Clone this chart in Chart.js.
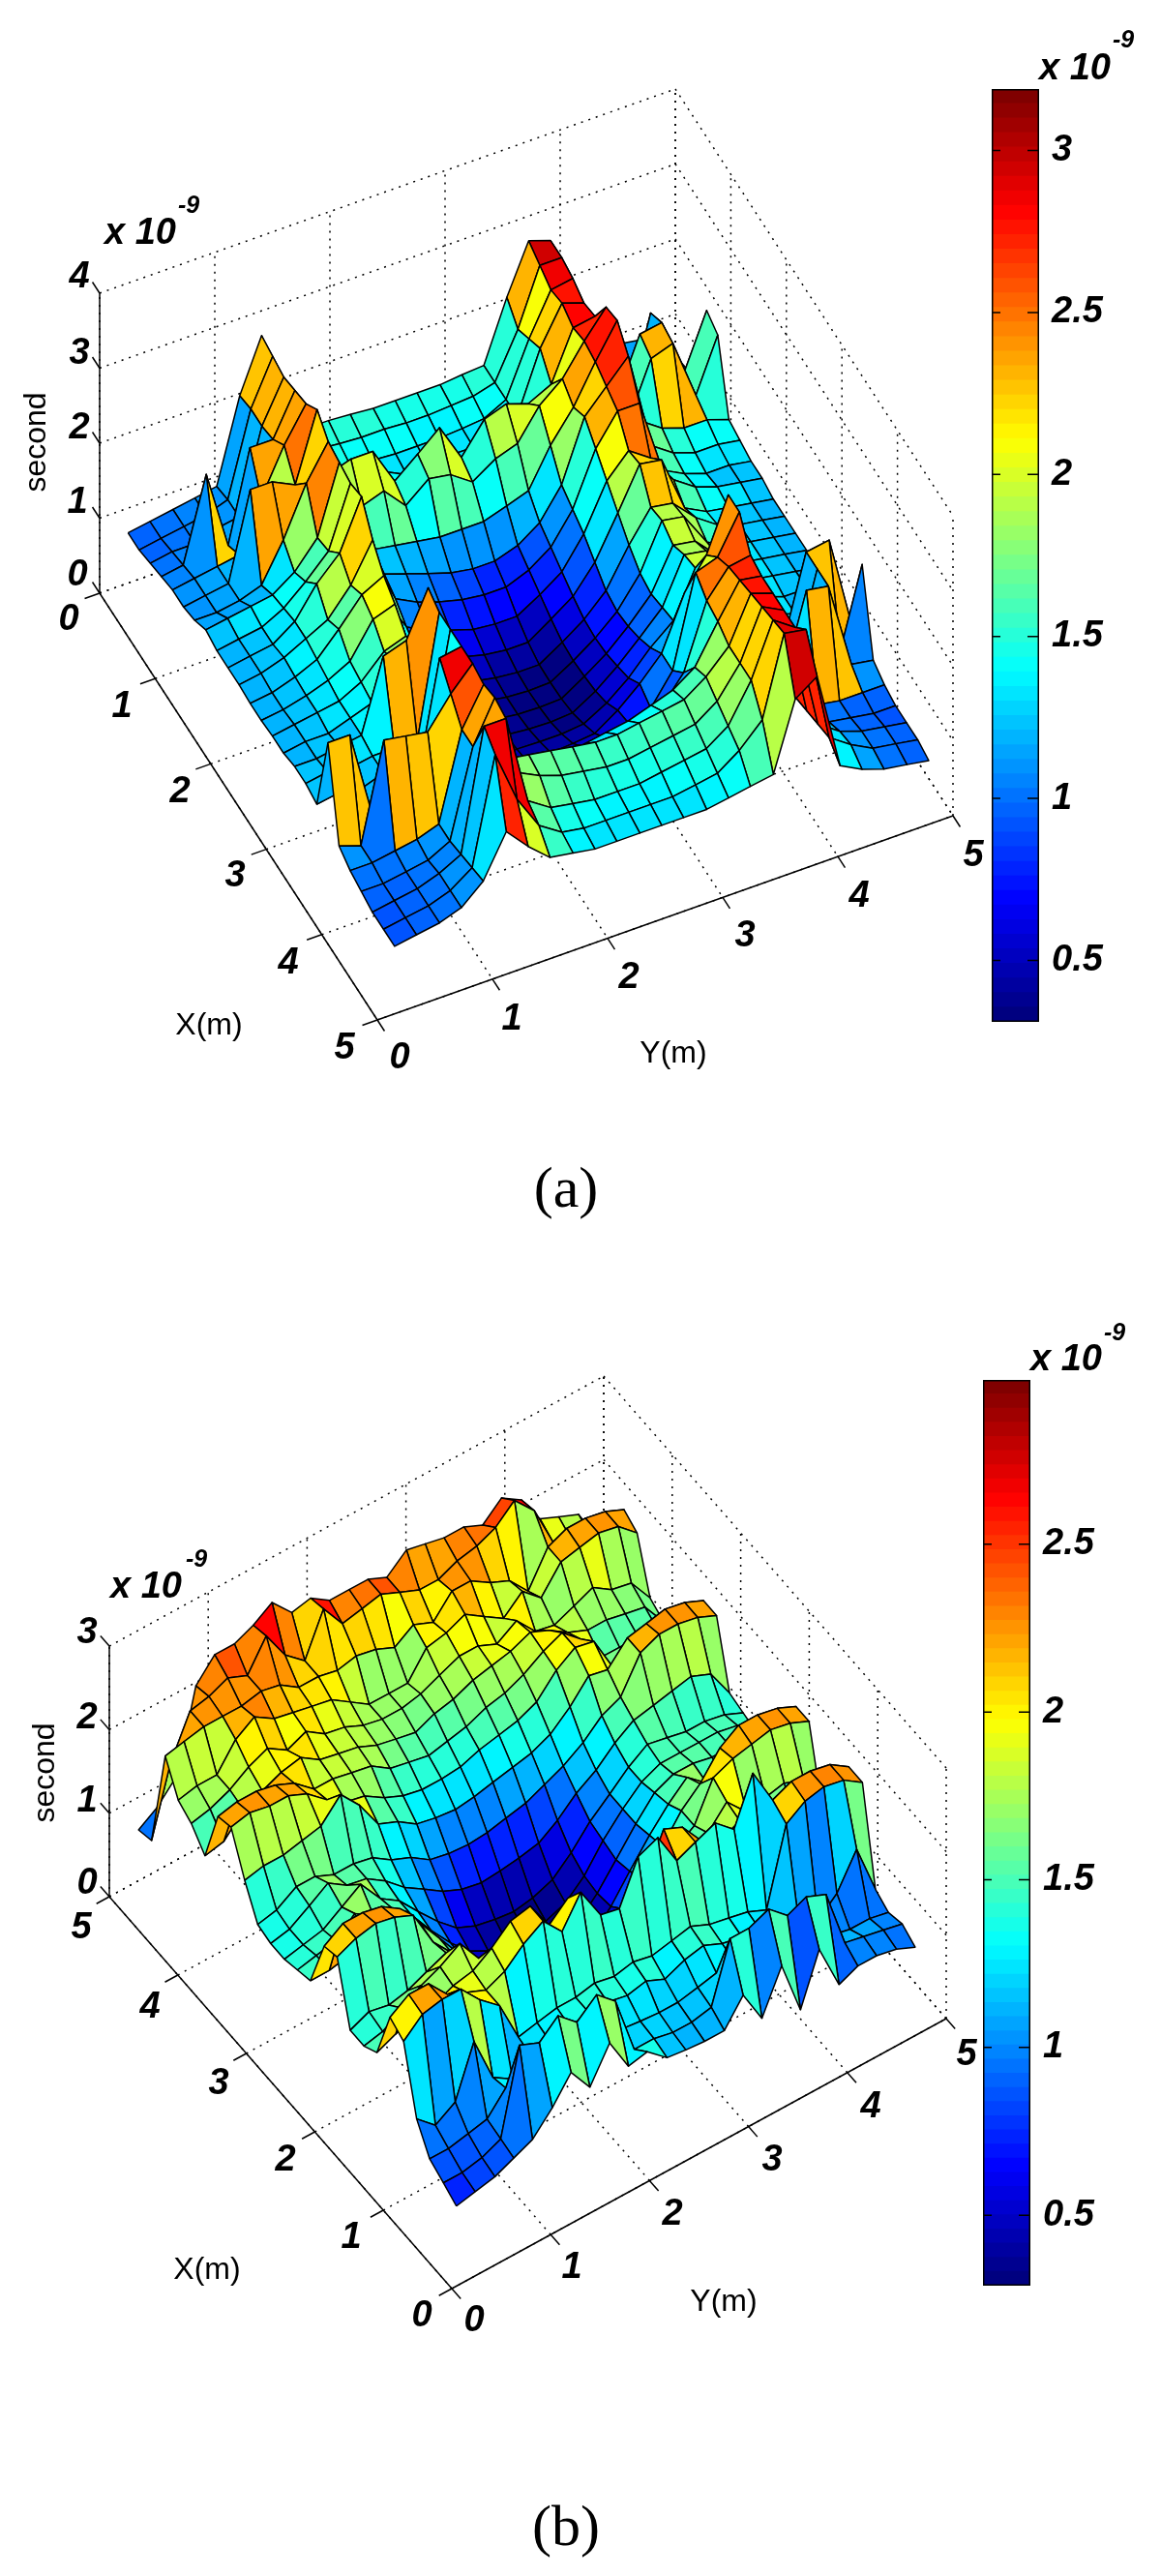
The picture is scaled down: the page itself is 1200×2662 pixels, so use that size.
<!DOCTYPE html>
<html lang="en">
<head>
<meta charset="UTF-8">
<title>Delay surfaces (a) and (b)</title>
<style>
    html, body { margin: 0; padding: 0; background: #fff; }
    #page { position: relative; width: 1200px; height: 2662px; overflow: hidden; }
    canvas { position: absolute; display: block; }
</style>
<script src="https://cdn.jsdelivr.net/npm/chart.js"></script>
</head>
<body>
<div id="page">
    <canvas id="surfA" width="1200" height="1331" style="left:0;top:0"></canvas>
    <canvas id="surfB" width="1200" height="1331" style="left:0;top:1331px"></canvas>
    <canvas id="barA" width="170" height="964" style="left:1025px;top:92px"></canvas>
    <canvas id="barB" width="170" height="936" style="left:1016px;top:1426px"></canvas>
</div>

<script>
// grid positions in metres
const xsA = [0.2,0.4,0.6,0.8,1.0,1.2,1.4,1.6,1.8,2.0,2.2,2.4,2.6,2.8,3.0,3.2,3.4,3.6,3.8,4.0,4.2,4.4,4.6,4.8,5.0];
const ysA = [0.15,0.34,0.54,0.73,0.92,1.12,1.31,1.5,1.7,1.89,2.08,2.28,2.47,2.66,2.86,3.05,3.24,3.44,3.63,3.82,4.02,4.21,4.4,4.6,4.79];
const xsB = [0.15,0.34,0.54,0.73,0.92,1.12,1.31,1.5,1.7,1.89,2.08,2.28,2.47,2.66,2.86,3.05,3.24,3.44,3.63,3.82,4.02,4.21,4.4,4.6,4.79];
const ysB = [0.15,0.34,0.54,0.73,0.92,1.12,1.31,1.5,1.7,1.89,2.08,2.28,2.47,2.66,2.86,3.05,3.24,3.44,3.63,3.82,4.02,4.21,4.4,4.6,4.79];

// heights, unit 1e-9 second, one row per x
const zA = [
[0.95,1.0,1.05,1.1,1.15,2.25,2.95,1.5,1.5,1.5,1.48,1.45,1.45,1.45,1.45,1.48,1.5,2.3,2.95,2.85,1.4,1.2,1.15,1.1,1.05],
[0.95,1.0,1.05,1.1,1.2,2.3,2.9,1.6,1.45,1.42,1.4,1.4,1.38,1.38,1.4,1.42,1.5,2.1,2.85,2.85,1.3,1.2,1.1,1.1,1.05],
[1.0,1.05,1.05,1.15,1.2,2.3,2.85,1.7,1.4,1.35,1.32,1.3,1.3,1.3,1.32,1.35,1.5,2.2,2.75,2.8,1.4,1.3,1.2,1.15,1.1],
[1.05,1.1,2.2,1.15,2.35,2.35,2.9,1.8,1.5,1.5,1.4,1.25,1.25,1.3,1.3,1.35,1.5,2.3,2.8,2.7,1.4,1.2,2.25,1.2,1.15],
[1.1,1.15,1.2,1.25,1.9,2.5,2.95,1.9,2.0,2.0,1.5,1.75,2.0,1.5,1.9,2.0,1.9,2.05,2.7,2.75,1.6,2.3,2.35,1.6,2.3],
[1.1,1.15,1.2,2.35,2.35,2.2,3.1,1.8,1.6,1.7,1.4,1.65,1.6,1.4,1.6,1.7,2.1,2.35,2.75,3.1,1.5,2.2,2.3,1.5,2.2],
[1.15,1.15,1.2,1.3,1.8,2.45,2.9,2.0,1.25,1.2,1.15,1.1,1.1,1.1,1.2,1.3,1.8,2.2,2.7,3.15,1.7,1.5,1.4,1.4,1.3],
[1.25,1.3,1.35,1.4,1.6,1.95,2.85,1.9,1.15,1.05,0.95,0.85,0.8,0.8,0.9,1.1,1.5,2.3,2.6,2.9,1.6,1.4,1.3,1.3,1.25],
[1.2,1.25,1.3,1.45,1.7,2.0,2.8,1.7,1.05,0.9,0.8,0.72,0.68,0.68,0.8,1.0,1.4,2.1,2.5,2.5,1.5,1.35,1.25,1.25,1.2],
[1.2,1.25,1.3,1.5,1.9,2.2,2.85,1.4,0.9,0.75,0.65,0.55,0.52,0.52,0.7,0.9,1.3,1.9,2.2,2.0,1.6,1.4,1.3,1.25,1.2],
[1.2,1.25,1.35,1.5,1.65,2.0,2.5,1.3,0.78,0.62,0.52,0.44,0.4,0.4,0.6,0.8,1.15,1.7,2.25,2.2,1.45,1.3,1.25,1.2,1.15],
[1.18,1.22,1.32,1.45,1.75,2.1,2.25,1.2,0.68,0.52,0.42,0.36,0.33,0.33,0.52,0.72,1.0,1.5,1.9,1.85,1.55,1.35,1.25,1.2,1.15],
[1.18,1.22,1.3,1.4,1.55,2.0,2.1,1.15,0.62,0.48,0.38,0.33,0.31,0.32,0.5,0.7,0.95,1.35,1.95,1.9,1.45,1.3,1.25,1.2,1.15],
[1.2,1.25,1.3,1.35,1.5,1.8,1.9,1.1,0.58,0.46,0.37,0.33,0.32,0.33,0.52,0.72,0.98,1.3,1.85,1.8,1.5,1.3,1.25,1.2,1.15],
[1.2,1.25,1.25,1.35,1.45,1.9,2.0,1.05,0.56,0.46,0.39,0.36,0.35,0.37,0.55,0.78,1.05,1.35,1.95,1.9,1.4,1.3,1.25,1.2,1.15],
[1.25,1.25,1.3,1.35,2.3,2.4,3.0,0.95,0.55,0.48,0.43,0.42,0.42,0.45,0.62,0.85,1.15,1.4,2.0,2.0,1.5,1.3,1.2,1.2,1.15],
[1.25,1.3,1.25,1.3,1.3,1.3,2.9,1.2,0.56,0.5,0.48,0.5,0.52,0.55,0.75,1.0,1.3,2.0,2.4,3.1,1.55,1.3,1.2,1.15,1.1],
[1.2,1.25,1.2,1.3,1.35,1.4,2.9,1.0,0.6,0.55,0.6,0.65,0.7,0.72,0.8,0.9,1.3,2.5,2.6,3.1,1.2,1.2,2.25,2.3,1.1],
[2.25,2.25,1.05,1.2,1.3,2.85,2.9,1.5,0.8,0.7,0.75,0.85,0.95,1.0,1.05,1.15,1.5,2.35,2.7,2.75,1.25,1.2,2.25,1.05,2.1],
[1.1,1.0,2.3,2.25,2.2,2.6,2.9,1.85,1.4,1.2,1.2,1.3,1.35,1.4,1.5,1.6,1.8,2.3,2.75,2.7,1.3,2.3,2.25,1.1,1.05],
[1.0,1.0,1.05,1.1,1.2,2.35,2.85,1.75,1.7,1.65,1.6,1.55,1.55,1.6,1.65,1.7,1.9,2.2,2.8,2.7,1.2,1.0,0.95,0.95,0.95],
[0.95,0.95,1.0,1.05,1.2,2.35,2.9,1.8,1.65,1.55,1.5,1.45,1.45,1.5,1.55,1.6,1.8,2.2,2.85,2.7,1.25,1.0,0.95,0.9,0.9],
[0.9,0.95,1.0,1.1,1.25,2.85,2.85,1.65,1.45,1.4,1.35,1.35,1.35,1.4,1.45,1.5,1.7,2.2,2.9,2.7,1.3,1.1,1.0,0.95,0.9],
[0.9,0.95,1.0,1.1,1.3,2.7,2.0,1.55,1.35,1.3,1.3,1.3,1.3,1.3,1.35,1.4,1.6,1.9,2.95,2.9,1.35,1.15,1.0,0.95,0.9],
[0.9,0.95,1.0,1.1,1.35,1.9,1.6,1.35,1.3,1.25,1.25,1.25,1.25,1.25,1.25,1.3,1.35,1.4,2.3,2.5,1.2,1.05,0.95,0.9,0.85]
];
const zB = [
[0.75,0.8,0.85,0.95,1.05,1.3,1.6,1.3,1.7,1.3,1.35,1.15,1.12,1.1,1.1,1.4,1.0,1.5,0.85,1.45,0.9,1.0,1.0,0.95,0.85],
[0.85,0.85,0.9,1.0,2.0,1.9,2.1,1.9,2.1,1.9,1.2,1.2,1.15,1.15,1.2,1.9,1.9,2.0,1.8,1.9,1.8,1.1,1.05,1.0,0.95],
[0.95,0.95,1.0,1.05,1.3,1.3,1.4,1.3,1.4,1.35,1.25,1.22,1.2,1.2,1.25,1.3,1.3,1.25,1.2,1.1,1.0,1.0,0.95,0.95,0.9],
[1.25,1.05,1.2,1.8,1.25,1.1,1.25,1.3,1.35,1.4,1.4,1.35,1.4,1.3,1.4,1.45,1.35,1.3,1.25,1.15,1.05,1.0,1.2,1.6,1.0],
[2.0,2.2,2.25,2.25,2.0,1.8,1.3,1.35,1.4,1.4,1.45,1.4,1.45,1.4,1.45,1.5,1.4,1.35,1.3,1.2,2.1,2.25,2.3,2.25,2.1],
[2.1,2.25,2.25,2.0,1.9,1.8,1.9,2.1,2.25,2.0,2.35,1.95,1.9,2.4,2.5,2.1,2.2,2.3,2.1,2.65,2.2,2.3,2.3,2.25,2.1],
[1.5,1.6,1.7,1.7,1.8,1.85,2.0,2.2,2.25,1.9,2.1,1.5,1.4,1.5,1.8,2.3,2.2,1.9,1.8,1.9,1.8,1.6,1.4,1.3,1.2],
[1.4,1.45,1.6,1.75,1.85,2.0,1.7,1.5,1.55,1.3,1.25,1.1,1.05,1.15,1.2,1.35,1.45,1.55,1.7,1.95,1.7,1.75,1.8,1.7,1.2],
[1.4,1.5,1.45,1.5,1.6,1.7,1.4,1.3,1.2,1.0,0.85,0.7,0.65,0.7,0.85,1.05,1.25,1.45,1.6,2.05,2.15,2.2,2.25,2.2,2.1],
[2.1,2.2,2.25,2.2,2.1,1.65,1.4,1.25,0.95,0.7,0.55,0.45,0.4,0.42,0.55,0.8,1.05,1.3,1.6,1.8,2.1,2.25,2.25,2.2,2.1],
[2.05,2.2,2.2,2.15,2.0,1.7,1.4,1.1,0.8,0.55,0.42,0.34,0.3,0.32,0.42,0.65,0.95,1.25,1.5,1.7,1.5,1.45,1.4,1.35,1.25],
[1.45,1.45,1.5,1.5,1.55,1.65,1.35,1.0,0.7,0.48,0.36,0.3,0.29,0.31,0.4,0.62,0.9,1.2,1.45,1.55,1.55,1.5,1.5,1.45,1.3],
[1.4,1.45,1.5,1.7,1.55,1.5,1.3,1.0,0.72,0.5,0.38,0.32,0.32,0.36,0.45,0.65,0.95,1.2,1.4,1.5,1.5,1.5,1.5,1.45,1.25],
[1.35,1.4,1.45,1.6,1.75,1.45,1.3,1.05,0.8,0.6,0.5,0.45,0.42,0.46,0.55,0.75,1.0,1.2,1.4,1.55,1.5,1.45,1.45,1.4,1.3],
[1.35,1.4,1.55,1.7,1.55,1.5,1.35,1.15,1.0,0.85,0.75,0.7,0.72,0.75,0.8,0.95,1.15,1.3,1.5,1.65,1.7,1.75,1.8,1.7,1.35],
[1.4,1.45,1.6,1.6,1.5,1.5,1.45,1.3,1.2,1.05,1.0,0.98,1.0,1.05,1.1,1.2,1.3,1.45,1.65,1.75,2.15,2.25,2.25,2.2,2.1],
[1.75,1.8,1.8,1.85,1.9,2.15,1.9,1.55,1.45,1.3,1.25,1.22,1.25,1.3,1.35,1.4,1.5,1.7,1.95,1.9,2.15,2.2,2.25,2.2,2.1],
[2.2,2.25,2.2,2.2,2.1,1.9,1.75,1.7,1.55,1.45,1.4,1.4,1.42,1.5,1.55,1.6,1.7,1.95,2.1,2.05,1.6,1.6,1.6,1.55,1.3],
[2.15,2.2,2.2,2.15,2.05,1.85,1.85,1.8,1.75,1.6,1.55,1.5,1.55,1.6,1.7,1.75,1.85,2.0,2.1,1.9,1.55,1.55,1.55,1.5,1.3],
[1.5,1.55,1.8,1.9,2.0,2.05,1.9,1.85,1.8,1.7,1.65,1.6,1.7,1.75,1.85,1.9,1.95,2.05,1.95,1.8,1.7,1.7,1.65,1.6,1.3],
[1.7,1.75,1.85,2.0,2.1,1.95,2.05,1.9,1.85,1.75,1.7,1.7,1.75,1.85,1.95,1.95,1.85,2.0,1.75,1.7,1.8,1.9,1.75,1.7,1.4],
[1.8,1.85,1.85,2.15,2.3,2.15,2.1,2.05,2.0,1.85,1.7,1.7,1.7,2.0,2.05,2.15,2.0,1.85,2.05,1.85,2.15,2.2,2.25,2.2,2.0],
[2.15,2.2,2.25,2.25,2.25,2.3,2.25,2.1,2.1,2.05,2.1,2.05,1.95,2.1,2.0,2.25,2.25,2.1,2.0,1.75,2.15,2.25,2.25,2.2,2.1],
[0.95,1.75,2.25,2.3,2.4,2.3,2.65,2.3,2.1,2.6,2.3,2.35,2.4,2.3,2.2,2.2,2.3,2.35,2.45,2.65,2.4,1.9,1.8,1.7,1.4],
[0.9,1.05,1.3,2.25,2.5,2.5,2.6,2.75,2.5,2.55,2.4,2.4,2.4,2.3,2.5,2.45,2.4,2.4,2.3,2.5,2.35,2.0,1.9,1.8,1.4]
];

// axis ticks
const floorTicks = [0, 1, 2, 3, 4, 5];
const heightTicksA = [0, 1, 2, 3, 4];
const heightTicksB = [0, 1, 2, 3];
const barTicksA = [0.5, 1, 1.5, 2, 2.5, 3];
const barTicksB = [0.5, 1, 1.5, 2, 2.5];
const barRangeA = [0.31, 3.19];
const barRangeB = [0.29, 2.99];

// MATLAB jet, 64 steps
function jet(v, range) {
    let t = (v - range[0]) / (range[1] - range[0]);
    t = Math.max(0, Math.min(63, Math.floor(t * 64))) / 63;
    const c = k => Math.round(255 * Math.max(0, Math.min(1, 1.5 - Math.abs(4 * t - k))));
    return `rgb(${c(3)},${c(2)},${c(1)})`;
}

function lineSet(points, dash, width) {
    return {
        data: points, showLine: true, pointRadius: 0, fill: false,
        borderColor: '#000', borderWidth: width, borderDash: dash, clip: false
    };
}

// one chart per panel, the scales run in page pixels so the projection stays simple
function surfaceChart(id, view) {
    const project = (x, y, z) => ({
        x: view.origin[0] + x * view.ex[0] + y * view.ey[0],
        y: view.origin[1] + x * view.ex[1] + y * view.ey[1] - z * view.zUnit
    });

    // nearest faces first, chart.js paints dataset 0 last
    const near = (x, y) => view.near[0] * x + view.near[1] * y;
    const cells = [];
    for (let i = 0; i < view.xs.length - 1; i++) {
        for (let j = 0; j < view.ys.length - 1; j++) {
            cells.push({ i, j, d: near(view.xs[i] + view.xs[i + 1], view.ys[j] + view.ys[j + 1]) });
        }
    }
    cells.sort((a, b) => b.d - a.d);

    const datasets = cells.map(({ i, j }) => {
        const { xs, ys, z } = view;
        const p = project(xs[i], ys[j], z[i][j]);
        return {
            data: [p, project(xs[i + 1], ys[j], z[i + 1][j]), project(xs[i + 1], ys[j + 1], z[i + 1][j + 1]),
                   project(xs[i], ys[j + 1], z[i][j + 1]), p],
            showLine: true, pointRadius: 0, fill: 'shape', tension: 0,
            backgroundColor: jet(z[i][j], view.range),
            borderColor: '#000', borderWidth: 1.5, borderJoinStyle: 'round', clip: false
        };
    });

    // dotted box: floor and the two back walls
    const dots = [2, 6];
    const zTop = view.zTicks[view.zTicks.length - 1];
    floorTicks.forEach(t => {
        datasets.push(lineSet([project(t, 0, 0), project(t, 5, 0)], dots, 1.5));
        datasets.push(lineSet([project(0, t, 0), project(5, t, 0)], dots, 1.5));
        datasets.push(lineSet([project(view.wallX, t, 0), project(view.wallX, t, zTop)], dots, 1.5));
        datasets.push(lineSet([project(t, 5, 0), project(t, 5, zTop)], dots, 1.5));
    });
    view.zTicks.forEach(t => {
        datasets.push(lineSet([project(view.wallX, 0, t), project(view.wallX, 5, t)], dots, 1.5));
        datasets.push(lineSet([project(0, 5, t), project(5, 5, t)], dots, 1.5));
    });

    // solid axes with short ticks
    datasets.push(lineSet([project(view.wallX, 0, 0), project(view.wallX, 0, zTop)], [], 1.5));
    datasets.push(lineSet([project(0, 0, 0), project(5, 0, 0)], [], 1.5));
    datasets.push(lineSet([project(view.frontX, 0, 0), project(view.frontX, 5, 0)], [], 1.5));
    const out = view.frontX > view.wallX ? 1 : -1;
    floorTicks.forEach(t => {
        datasets.push(lineSet([project(t, 0, 0), project(t, -0.13, 0)], [], 1.5));
        datasets.push(lineSet([project(view.frontX, t, 0), project(view.frontX + out * 0.13, t, 0)], [], 1.5));
    });
    view.zTicks.forEach(t => {
        datasets.push(lineSet([project(view.wallX, 0, t), project(view.wallX - out * 0.13, 0, t)], [], 1.5));
    });

    const labelPlugin = {
        id: 'panelText',
        afterDraw(chart) {
            const ctx = chart.ctx;
            ctx.save();
            ctx.textAlign = 'center';
            ctx.textBaseline = 'middle';
            ctx.fillStyle = '#000';
            view.texts.forEach(t => {
                const px = chart.scales.x.getPixelForValue(t[1]);
                const py = chart.scales.y.getPixelForValue(t[2]);
                ctx.font = t[3];
                ctx.save();
                ctx.translate(px, py);
                if (t[4]) ctx.rotate(t[4]);
                ctx.fillText(t[0], 0, 0);
                ctx.restore();
            });
            ctx.restore();
        }
    };

    new Chart(document.getElementById(id), {
        type: 'scatter',
        data: { datasets },
        plugins: [labelPlugin],
        options: {
            responsive: false,
            animation: false,
            events: [],
            layout: { padding: 0 },
            plugins: { legend: { display: false }, tooltip: { enabled: false } },
            scales: {
                x: { type: 'linear', display: false, min: 0, max: 1200 },
                y: { type: 'linear', display: false, min: view.top, max: view.top + 1331, reverse: true }
            }
        }
    });
}

function colorBar(id, range, ticks) {
    const datasets = [];
    const step = (range[1] - range[0]) / 64;
    for (let k = 0; k < 64; k++) {
        const lo = range[0] + k * step;
        datasets.push({
            data: [[lo, lo + step * 1.02]],
            backgroundColor: jet(lo + step / 2, range),
            borderWidth: 0, grouped: false, barPercentage: 1, categoryPercentage: 1
        });
    }
    const framePlugin = {
        id: 'barFrame',
        afterDraw(chart) {
            const ctx = chart.ctx, a = chart.chartArea, s = chart.scales.y;
            ctx.save();
            ctx.strokeStyle = '#000';
            ctx.lineWidth = 1.5;
            ctx.strokeRect(a.left + 0.75, a.top + 0.75, a.right - a.left - 1.5, a.bottom - a.top - 1.5);
            ticks.forEach(t => {
                const y = s.getPixelForValue(t);
                ctx.beginPath();
                ctx.moveTo(a.left, y); ctx.lineTo(a.left + 9, y);
                ctx.moveTo(a.right, y); ctx.lineTo(a.right - 12, y);
                ctx.stroke();
            });
            ctx.restore();
        }
    };
    new Chart(document.getElementById(id), {
        type: 'bar',
        data: { labels: [''], datasets },
        plugins: [framePlugin],
        options: {
            responsive: false,
            animation: false,
            events: [],
            layout: { padding: 0 },
            plugins: { legend: { display: false }, tooltip: { enabled: false } },
            scales: {
                x: { display: false },
                y: {
                    position: 'right', min: range[0], max: range[1],
                    grid: { display: false }, border: { display: false },
                    // keep the bar at its full height, labels may not shrink it
                    afterFit: s => { s.width = 121; s.paddingTop = 0; s.paddingBottom = 0; },
                    afterBuildTicks: s => { s.ticks = ticks.map(v => ({ value: v })); },
                    ticks: {
                        autoSkip: false, padding: 5, color: '#000', crossAlign: 'near',
                        font: { family: 'Liberation Sans', size: 38, style: 'italic', weight: 'bold' },
                        callback: v => String(v)
                    }
                }
            }
        }
    });
}

const tickFont = 'italic bold 38px "Liberation Sans"';
const expFont = 'italic bold 25px "Liberation Sans"';
const nameFont = '32px "Liberation Sans"';
const capFont = '60px "Liberation Serif"';

surfaceChart('surfA', {
    top: 0, xs: xsA, ys: ysA, z: zA, range: barRangeA, zTicks: heightTicksA,
    origin: [103, 613], ex: [57.4, 88.2], ey: [119, -42.2], zUnit: 77.5,
    near: [119, -57.4], wallX: 0, frontX: 5,
    texts: [
        ['4', 82, 287, tickFont], ['3', 82, 366, tickFont], ['2', 82, 443, tickFont], ['1', 80, 520, tickFont], ['0', 80, 595, tickFont],
        ['0', 71, 641, tickFont], ['1', 126, 731, tickFont], ['2', 186, 819, tickFont], ['3', 243, 906, tickFont], ['4', 298, 996, tickFont], ['5', 356, 1084, tickFont],
        ['0', 413, 1094, tickFont], ['1', 529, 1054, tickFont], ['2', 650, 1011, tickFont], ['3', 770, 968, tickFont], ['4', 888, 927, tickFont], ['5', 1006, 885, tickFont],
        ['x 10', 145, 242, tickFont], ['-9', 195, 213, expFont],
        ['x 10', 1111, 72, tickFont], ['-9', 1161, 42, expFont],
        ['second', 38, 457, nameFont, -Math.PI / 2], ['X(m)', 216, 1060, nameFont], ['Y(m)', 696, 1089, nameFont],
        ['(a)', 585, 1231, capFont]
    ]
});

surfaceChart('surfB', {
    top: 1331, xs: xsB, ys: ysB, z: zB, range: barRangeB, zTicks: heightTicksB,
    origin: [467, 2365], ex: [-70.8, -81], ey: [102.2, -55.8], zUnit: 86.3,
    near: [-102.2, -70.8], wallX: 5, frontX: 0,
    texts: [
        ['3', 90, 1688, tickFont], ['2', 90, 1776, tickFont], ['1', 90, 1862, tickFont], ['0', 90, 1947, tickFont],
        ['5', 84, 1993, tickFont], ['4', 155, 2075, tickFont], ['3', 226, 2154, tickFont], ['2', 295, 2233, tickFont], ['1', 363, 2313, tickFont], ['0', 436, 2394, tickFont],
        ['0', 490, 2399, tickFont], ['1', 591, 2344, tickFont], ['2', 695, 2289, tickFont], ['3', 798, 2233, tickFont], ['4', 900, 2178, tickFont], ['5', 999, 2124, tickFont],
        ['x 10', 151, 1641, tickFont], ['-9', 203, 1612, expFont],
        ['x 10', 1102, 1406, tickFont], ['-9', 1152, 1378, expFont],
        ['second', 47, 1832, nameFont, -Math.PI / 2], ['X(m)', 214, 2346, nameFont], ['Y(m)', 748, 2379, nameFont],
        ['(b)', 585, 2614, capFont]
    ]
});

colorBar('barA', barRangeA, barTicksA);
colorBar('barB', barRangeB, barTicksB);
</script>
</body>
</html>
